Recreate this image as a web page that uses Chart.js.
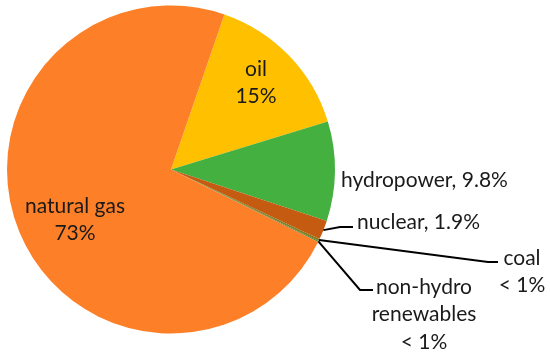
<!DOCTYPE html>
<html>
<head>
<meta charset="utf-8">
<script src="https://cdn.jsdelivr.net/npm/chart.js@4.4.0/dist/chart.umd.min.js"></script>
<style>
  html, body { margin: 0; padding: 0; background: #fff; }
  #wrap { width: 550px; height: 356px; position: relative; }
</style>
</head>
<body>
<div id="wrap"><canvas id="chart" width="550" height="356"></canvas></div>
<script>
// data, clockwise starting from the oil slice
const sources = ["oil", "hydropower", "nuclear", "coal", "non-hydro renewables", "natural gas"];
const shares = [15, 9.8, 1.9, 0.2, 0.1, 73];
const shareLabels = ["15%", "9.8%", "1.9%", "< 1%", "< 1%", "73%"];
const colors = ["#FFC000", "#43B03F", "#C55A11", "#8C7A1E", "#3E8E3A", "#FD7F28"];

const FONT = "21px Lato, 'Open Sans', sans-serif";

// label text lines and where they sit (x, y of centre), leader line bends
const labelSpecs = [
  { i: 0, lines: ["oil", "15%"], x: 256, y: 69, align: "center" },
  { i: 5, lines: ["natural gas", "73%"], x: 75, y: 206, align: "center" },
  { i: 1, lines: ["hydropower, 9.8%"], x: 341, y: 180, align: "left" },
  { i: 2, lines: ["nuclear, 1.9%"], x: 357, y: 222, align: "left", leader: [[340, 227], [353, 227]] },
  { i: 3, lines: ["coal", "< 1%"], x: 522, y: 258, align: "center", leader: [[488, 262], [498, 262]] },
  { i: 4, lines: ["non-hydro", "renewables", "< 1%"], x: 424, y: 287, align: "center", leader: [[360, 290], [373, 290]] }
];

const labelPlugin = {
  id: "sliceLabels",
  afterDraw(chart) {
    const ctx = chart.ctx;
    const arcs = chart.getDatasetMeta(0).data;
    ctx.save();
    ctx.font = FONT;
    ctx.fillStyle = "#1a1a1a";
    ctx.textBaseline = "middle";
    labelSpecs.forEach(s => {
      if (s.leader) {
        const a = arcs[s.i];
        const mid = (a.startAngle + a.endAngle) / 2;
        const sx = a.x + Math.cos(mid) * a.outerRadius;
        const sy = a.y + Math.sin(mid) * a.outerRadius;
        ctx.beginPath();
        ctx.strokeStyle = "#000";
        ctx.lineWidth = 2;
        ctx.moveTo(sx, sy);
        s.leader.forEach(p => ctx.lineTo(p[0], p[1]));
        ctx.stroke();
      }
      ctx.textAlign = s.align;
      s.lines.forEach((t, k) => {
        ctx.fillText(t, s.x, s.y + k * 27.5);
      });
    });
    ctx.restore();
  }
};

new Chart(document.getElementById("chart"), {
  type: "pie",
  data: {
    labels: sources,
    datasets: [{
      data: shares,
      backgroundColor: colors,
      borderWidth: 0
    }]
  },
  options: {
    responsive: false,
    animation: false,
    rotation: 19,
    layout: { padding: { left: 7, top: 5, right: 215, bottom: 22 } },
    plugins: {
      legend: { display: false },
      tooltip: { enabled: false }
    }
  },
  plugins: [labelPlugin]
});
</script>
</body>
</html>
